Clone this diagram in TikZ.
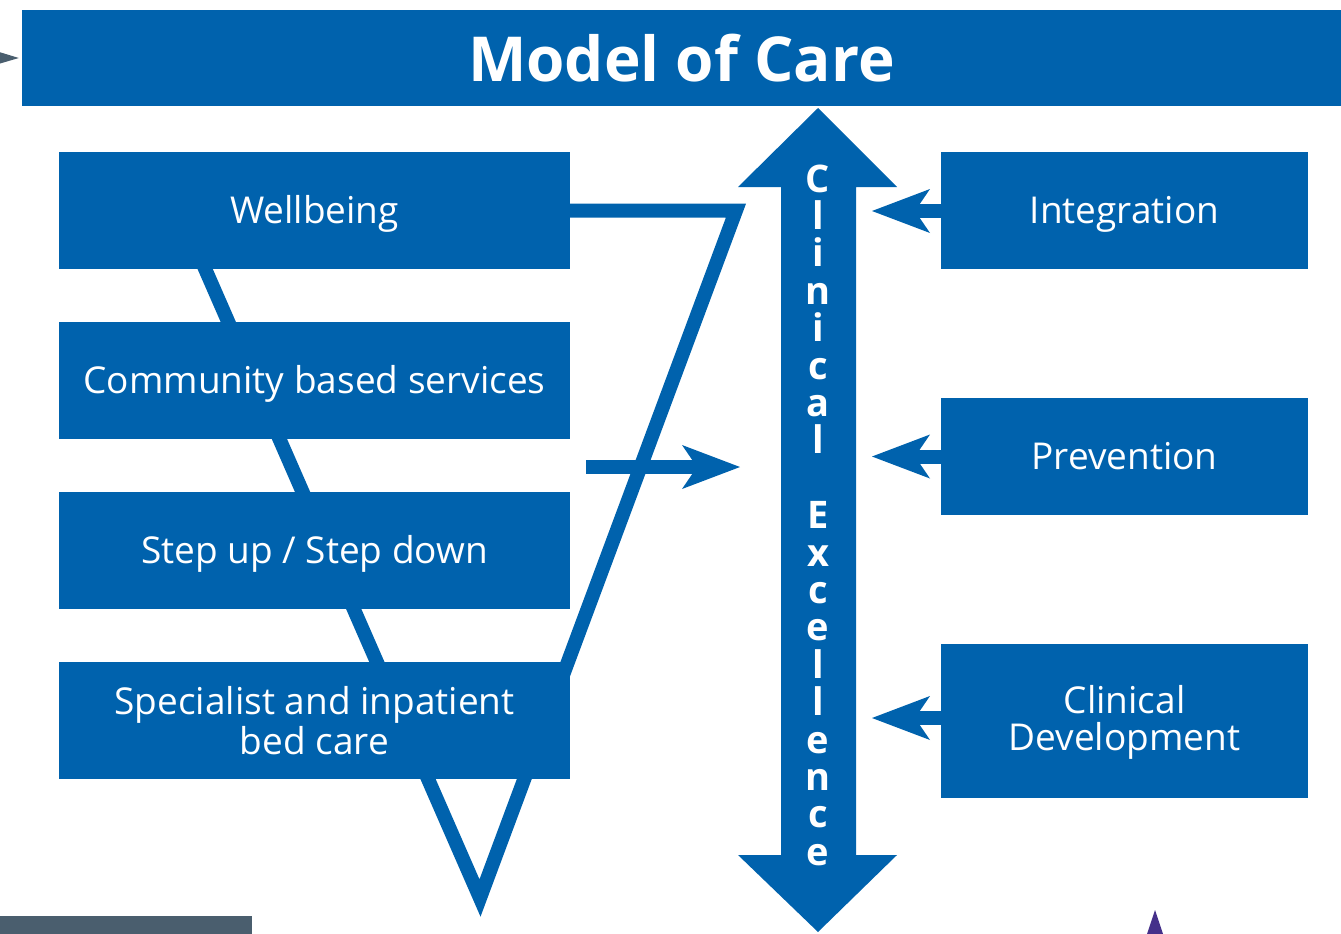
\documentclass[tikz,border=0pt]{standalone}
\usepackage{fontspec}
\setmainfont{Open Sans}
\usetikzlibrary{arrows.meta}
\definecolor{careblue}{HTML}{0062AD}
\definecolor{slategrey}{HTML}{4A5E6E}
\definecolor{markviolet}{HTML}{45308A}
% single-line box label, set a little below the optical centre of its box
\newcommand\boxline[1]{\raisebox{-5pt}[\height][\depth]{\strut #1}}
\begin{document}
\begin{tikzpicture}[x=1pt,y=-1pt,
  leftbox/.style={fill=careblue, text=white, minimum width=511pt, minimum height=117pt,
    inner sep=0pt, align=center, font=\fontsize{37}{40}\selectfont},
  rightbox/.style={leftbox, minimum width=367pt},
  vline/.style={draw=careblue, line width=14pt, miter limit=20},
  sidearrow/.style={careblue, line width=14pt,
    -{Stealth[length=58pt, width=44pt, inset=15pt, line width=0pt]}},
  letter/.style={text=white, inner sep=0pt, anchor=base,
    font=\fontsize{38}{38}\selectfont\bfseries}
]
\path[use as bounding box, clip] (0,0) rectangle (1341,934);

% header bar
\node[fill=careblue, text=white, minimum width=1319pt, minimum height=96pt, inner sep=0pt,
  font=\fontsize{62}{62}\selectfont\bfseries] (hdr) at (681.5,58) {Model of Care};

% incoming connector at the left edge
\coordinate (offleft) at (-80,57.5);
\draw[slategrey, line width=4pt, -{Triangle[length=25pt, width=15pt, line width=0pt]}]
  (offleft) -- ([xshift=-3pt]hdr.west);

% inverted triangle behind the service boxes
\coordinate (vtop) at (570,210.5);
\coordinate (vcorner) at (736,210.5);
\coordinate (vtip) at (480,898);
\coordinate (vleft) at (175,200);
\draw[vline] (vtop) -- (vcorner) -- (vtip) -- (vleft);

% service boxes
\node[leftbox] (well) at (314.5,210.5) {\boxline{Wellbeing}};
\node[leftbox] (comm) at (314.5,380.5) {\boxline{Community based services}};
\node[leftbox] (step) at (314.5,550.5) {\boxline{Step up / Step down}};
\node[leftbox] (spec) at (314.5,720.5) {Specialist and inpatient\\bed care};

\node[rightbox] (integ) at (1124.5,210.5) {\boxline{Integration}};
\node[rightbox] (prev) at (1124.5,456.5) {\boxline{Prevention}};
\node[rightbox, minimum height=154pt] (cdev) at (1124.5,721)
  {\raisebox{-3pt}[\height][\depth]{Clinical}\\Development};

% Clinical Excellence double arrow
\coordinate (cetop) at (818,108);
\coordinate (cebot) at (818,932);
\fill[careblue] (cetop) -- (897,187) -- (856,187) -- (856,855) -- (897,855) -- (cebot)
  -- (738,855) -- (781,855) -- (781,187) -- (738,187) -- cycle;
\foreach \ch [count=\i from 0] in {C,l,i,n,i,c,a,l,{},E,x,c,e,l,l,e,n,c,e}
  \node[letter] (ce\i) at (818,192+\i*37.4) {\ch};

% arrows into the Clinical Excellence arrow
\coordinate (midstart) at (586,467);
\coordinate (midend) at (740,467);
\draw[sidearrow] (midstart) -- (midend);
\coordinate (integtip) at (872,211);
\coordinate (prevtip) at (872,456.5);
\coordinate (cdevtip) at (872,718);
\draw[sidearrow] (integ.west |- integtip) -- (integtip);
\draw[sidearrow] (prev.west |- prevtip) -- (prevtip);
\draw[sidearrow] (cdev.west |- cdevtip) -- (cdevtip);

% page furniture at the lower edge
\fill[slategrey] (0,916) rectangle (252,940);
\fill[markviolet] (1155,910) -- (1165,940) -- (1145,940) -- cycle;
\end{tikzpicture}
\end{document}
